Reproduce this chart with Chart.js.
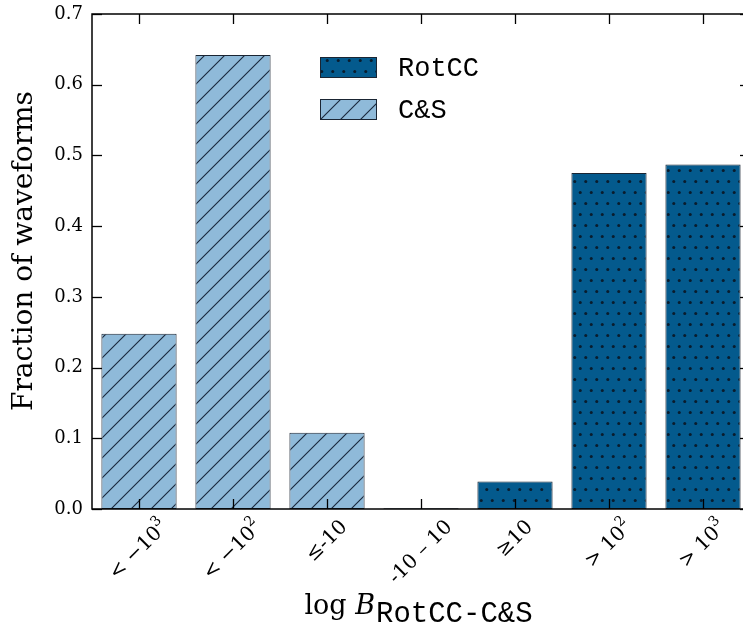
<!DOCTYPE html>
<html><head><meta charset="utf-8">
<script src="https://cdn.jsdelivr.net/npm/chart.js@4/dist/chart.umd.min.js"></script>
<style>
html,body{margin:0;padding:0;background:#fff;overflow:hidden;width:743px;height:630px}
#wrap{position:relative;width:750px;height:630px}
</style></head>
<body><div id="wrap"><canvas id="c"></canvas></div>
<script>
// ---- data ----
const categories = ['< \u221210\u00b3', '< \u221210\u00b2', '\u2264-10', '-10 \u2013 10', '\u226510', '> 10\u00b2', '> 10\u00b3'];
const seriesNames = ['RotCC', 'C&S'];
const rotccValues = [null, null, null, 0.001, 0.039, 0.475, 0.487];
const csValues = [0.248, 0.642, 0.108, null, null, null, null];
const yTickValues = [0.0, 0.1, 0.2, 0.3, 0.4, 0.5, 0.6, 0.7];
const yTitle = 'Fraction of waveforms';
const xTitleMain = 'log ';
const xTitleVar = 'B';
const xTitleSub = 'RotCC-C&S';

// ---- styles ----
const DARK = '#045a8d';
const LIGHT = '#8fbad9';
const EDGE = '#1a2533';
const SERIF = '"DejaVu Serif", serif';
const MONO = '"Liberation Mono", monospace';
const SUP = { '\u00b2': '2', '\u00b3': '3' };

function dotPattern() {
  const c = document.createElement('canvas');
  c.width = 11; c.height = 22;
  const x = c.getContext('2d');
  x.fillStyle = DARK; x.fillRect(0, 0, 11, 22);
  x.fillStyle = '#0a1c2c';
  [[2.75, 5.5], [8.25, 16.5]].forEach(([px, py]) => {
    x.beginPath(); x.arc(px, py, 1.5, 0, Math.PI * 2); x.fill();
  });
  return x.createPattern(c, 'repeat');
}
function hatchPattern() {
  const c = document.createElement('canvas');
  c.width = 20; c.height = 20;
  const x = c.getContext('2d');
  x.fillStyle = LIGHT; x.fillRect(0, 0, 20, 20);
  x.strokeStyle = '#18263a'; x.lineWidth = 1.1;
  [[0, 20, 20, 0], [-10, 10, 10, -10], [10, 30, 30, 10]].forEach(([a, b, cc, d]) => {
    x.beginPath(); x.moveTo(a, b); x.lineTo(cc, d); x.stroke();
  });
  return x.createPattern(c, 'repeat');
}
const dots = dotPattern();
const hatch = hatchPattern();

const TICK_FONT = '20px ' + SERIF;
const SUP_FONT = '14px ' + SERIF;
const YTICK_FONT = '18px ' + SERIF;
function splitLabel(s) {
  const parts = [];
  for (const ch of s) {
    const sup = SUP[ch] !== undefined;
    const t = sup ? SUP[ch] : ch;
    if (parts.length && parts[parts.length - 1].sup === sup) parts[parts.length - 1].t += t;
    else parts.push({ t, sup });
  }
  return parts;
}
function labelWidth(ctx, parts) {
  let w = 0;
  parts.forEach(p => { ctx.font = p.sup ? SUP_FONT : TICK_FONT; w += ctx.measureText(p.t).width; });
  return w;
}

const decor = {
  id: 'decor',
  afterDraw(chart) {
    const ctx = chart.ctx;
    const a = chart.chartArea;
    const xs = chart.scales.x, ys = chart.scales.y;
    ctx.save();
    // inward ticks
    ctx.strokeStyle = '#000'; ctx.lineWidth = 1.3;
    const TL = 10;
    yTickValues.forEach(v => {
      const y = Math.round(ys.getPixelForValue(v)) + 0.5;
      ctx.beginPath(); ctx.moveTo(a.left, y); ctx.lineTo(a.left + TL, y); ctx.stroke();
      ctx.beginPath(); ctx.moveTo(a.right, y); ctx.lineTo(a.right - TL, y); ctx.stroke();
    });
    categories.forEach((c, i) => {
      const x = Math.round(xs.getPixelForValue(i)) + 0.5;
      ctx.beginPath(); ctx.moveTo(x, a.bottom); ctx.lineTo(x, a.bottom - TL); ctx.stroke();
      ctx.beginPath(); ctx.moveTo(x, a.top); ctx.lineTo(x, a.top + TL); ctx.stroke();
    });
    // frame
    ctx.lineWidth = 1.5;
    ctx.strokeRect(a.left, a.top, a.right - a.left, a.bottom - a.top);

    // y tick labels
    ctx.fillStyle = '#000';
    ctx.font = YTICK_FONT;
    ctx.textAlign = 'right'; ctx.textBaseline = 'middle';
    yTickValues.forEach(v => {
      ctx.fillText(v.toFixed(1), a.left - 9, ys.getPixelForValue(v));
    });

    // x tick labels rotated 45, centered (matplotlib style)
    const h = 17;
    categories.forEach((c, i) => {
      const parts = splitLabel(c);
      const w = labelWidth(ctx, parts);
      const s = (w + h) / Math.SQRT2;
      const cx = xs.getPixelForValue(i);
      const cy = a.bottom + 9 + s / 2;
      ctx.save();
      ctx.translate(cx, cy);
      ctx.rotate(-Math.PI / 4);
      ctx.textAlign = 'left'; ctx.textBaseline = 'middle';
      let x0 = -w / 2;
      parts.forEach(p => {
        ctx.font = p.sup ? SUP_FONT : TICK_FONT;
        ctx.fillText(p.t, x0, p.sup ? -8 : 0);
        x0 += ctx.measureText(p.t).width;
      });
      ctx.restore();
    });

    // y title
    ctx.save();
    ctx.font = '28px ' + SERIF;
    ctx.translate(25, 251);
    ctx.rotate(-Math.PI / 2);
    ctx.textAlign = 'center'; ctx.textBaseline = 'middle';
    ctx.fillText(yTitle, 0, 0);
    ctx.restore();

    // x title with subscript
    const f1 = '27px ' + SERIF, f2 = 'italic 27px ' + SERIF, f3 = '29px ' + MONO;
    ctx.font = f1; const w1 = ctx.measureText(xTitleMain).width;
    ctx.font = f2; const w2 = ctx.measureText(xTitleVar).width;
    ctx.font = f3; const w3 = ctx.measureText(xTitleSub).width;
    let x0 = (a.left + a.right) / 2 - (w1 + w2 + w3) / 2 - 3;
    const base = 614;
    ctx.textAlign = 'left'; ctx.textBaseline = 'alphabetic';
    ctx.font = f1; ctx.fillText(xTitleMain, x0, base); x0 += w1;
    ctx.font = f2; ctx.fillText(xTitleVar, x0, base); x0 += w2 + 1;
    ctx.font = f3; ctx.fillText(xTitleSub, x0, base + 8);

    // legend
    const items = [[seriesNames[0], dots], [seriesNames[1], hatch]];
    items.forEach(([lab, pat], i) => {
      const top = 57 + i * 42;
      ctx.fillStyle = pat;
      ctx.fillRect(320, top, 57, 21);
      ctx.strokeStyle = EDGE; ctx.lineWidth = 1;
      ctx.strokeRect(320.5, top + 0.5, 56, 20);
      ctx.fillStyle = '#000';
      ctx.font = '27px ' + MONO;
      ctx.textBaseline = 'middle';
      ctx.fillText(lab, 398, top + 12);
    });
    ctx.restore();
  }
};

new Chart(document.getElementById('c'), {
  type: 'bar',
  data: {
    labels: categories,
    datasets: [
      { label: seriesNames[0], data: rotccValues, backgroundColor: dots, borderColor: EDGE, borderWidth: 1, borderSkipped: false, grouped: false },
      { label: seriesNames[1], data: csValues, backgroundColor: hatch, borderColor: EDGE, borderWidth: 1, borderSkipped: false, grouped: false }
    ]
  },
  options: {
    responsive: true,
    maintainAspectRatio: false,
    animation: false,
    categoryPercentage: 0.8,
    barPercentage: 1.0,
    layout: { padding: { top: 14, left: 0, right: 0, bottom: 0 } },
    plugins: { legend: { display: false }, tooltip: { enabled: false } },
    scales: {
      x: {
        grid: { display: false },
        border: { display: false },
        ticks: { display: false },
        afterFit(s) { s.height = 121; }
      },
      y: {
        min: 0, max: 0.7,
        grid: { display: false },
        border: { display: false },
        afterBuildTicks(s) { s.ticks = yTickValues.map(v => ({ value: v })); },
        ticks: { display: false },
        afterFit(s) { s.width = 92; }
      }
    }
  },
  plugins: [decor]
});
</script>
</body></html>
